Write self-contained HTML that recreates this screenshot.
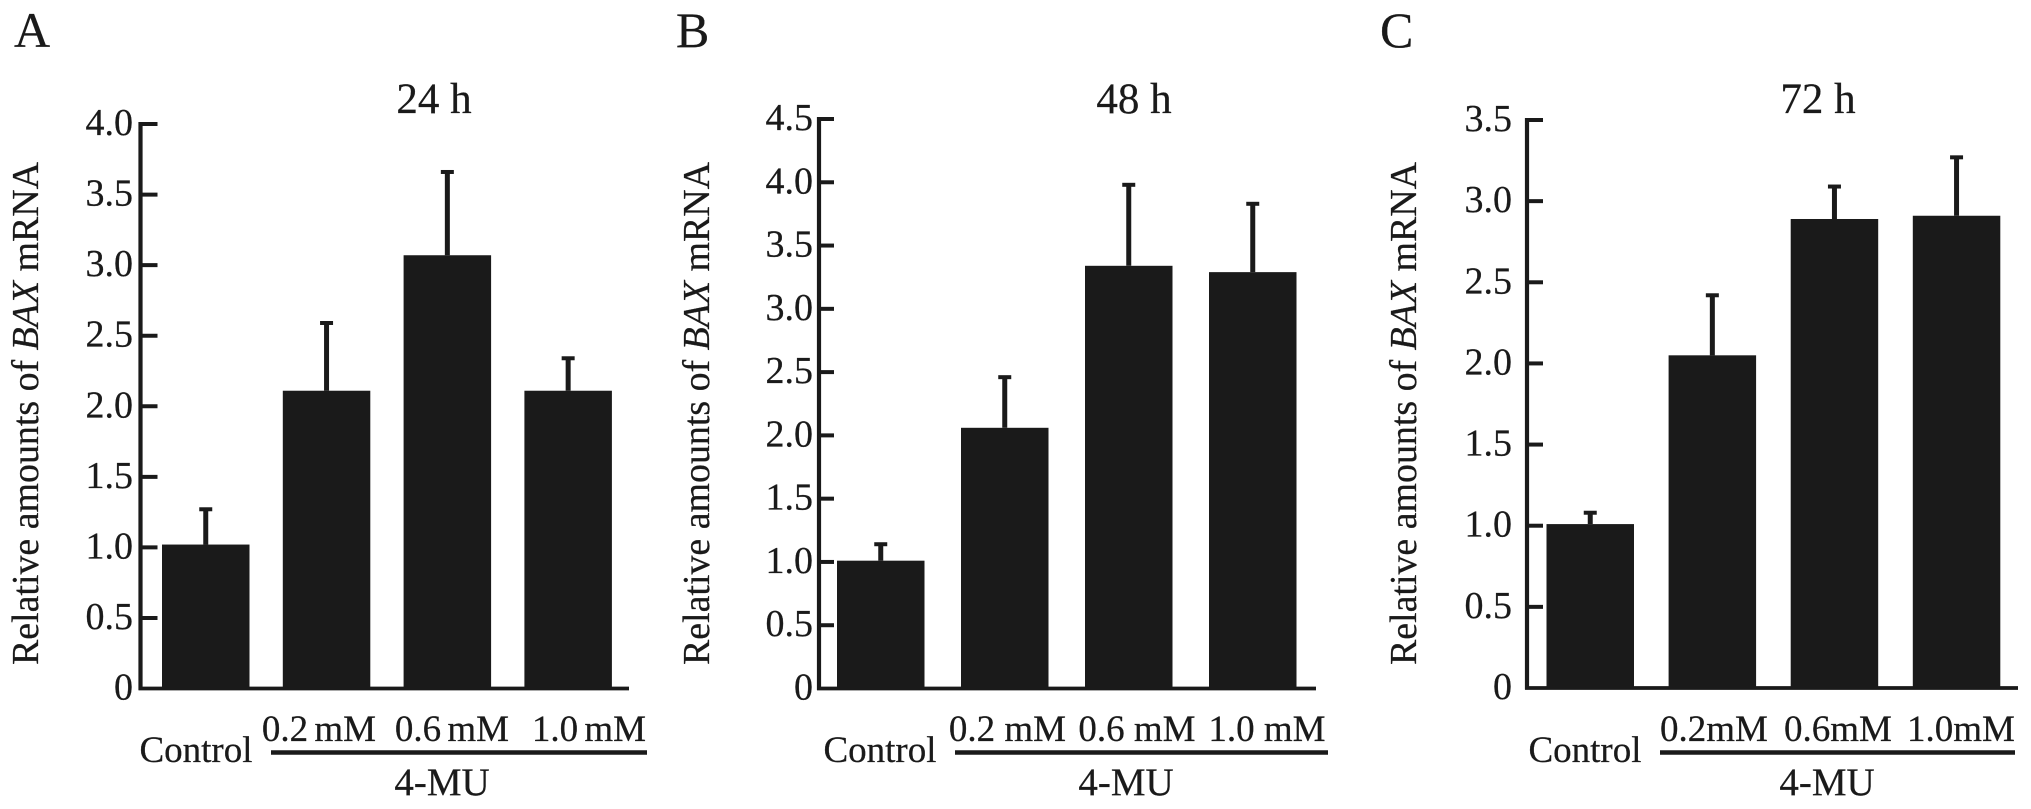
<!DOCTYPE html>
<html>
<head>
<meta charset="utf-8">
<title>Relative amounts of BAX mRNA</title>
<style>
html,body{margin:0;padding:0;background:#fff;}
svg{display:block;}
text{font-family:"Liberation Serif",serif;fill:#1a1a1a;stroke:#1a1a1a;stroke-width:0.25;}
</style>
</head>
<body>
<svg id="figure" width="2031" height="809" viewBox="0 0 2031 809" xmlns="http://www.w3.org/2000/svg"></svg>
<script>
const categories = ["Control", "0.2 mM", "0.6 mM", "1.0 mM"];
const categoriesC = ["Control", "0.2mM", "0.6mM", "1.0mM"];
const titles = ["24 h", "48 h", "72 h"];
const panelLetters = ["A", "B", "C"];

const ticksA = ["0", "0.5", "1.0", "1.5", "2.0", "2.5", "3.0", "3.5", "4.0"];
const ticksB = ["0", "0.5", "1.0", "1.5", "2.0", "2.5", "3.0", "3.5", "4.0", "4.5"];
const ticksC = ["0", "0.5", "1.0", "1.5", "2.0", "2.5", "3.0", "3.5"];

const meansA = [1.02, 2.11, 3.07, 2.11];
const errorTopsA = [1.27, 2.59, 3.66, 2.34];
const meansB = [1.01, 2.06, 3.34, 3.29];
const errorTopsB = [1.14, 2.46, 3.98, 3.83];
const meansC = [1.01, 2.05, 2.89, 2.91];
const errorTopsC = [1.08, 2.42, 3.09, 3.27];

const svg = document.getElementById('figure');
const NS = 'http://www.w3.org/2000/svg';

function make(tag, attrs, parent) {
  const e = document.createElementNS(NS, tag);
  for (const k in attrs) e.setAttribute(k, attrs[k]);
  parent.appendChild(e);
  return e;
}

function drawPanel(p) {
  const g = make('g', {}, svg);
  
  

  const maxV = parseFloat(p.ticks[p.ticks.length - 1]);
  const yScale = v => p.base - (v / maxV) * (p.base - p.top);
  const barX = i => p.barStart + i * p.barStep;
  const barW = 87.5;

  const letter = make('text', {x: p.letterX, y: 47, 'font-size': 50}, g);
  letter.textContent = p.letter;
  
  

  const title = make('text', {x: p.titleX, y: 113, 'font-size': 43, 'text-anchor': 'middle'}, g);
  title.textContent = p.title;
  
  

  const yTitle = make('text', {
    transform: 'translate(' + p.yTitleX + ',665) rotate(-90)',
    'font-size': 38, textLength: 503, lengthAdjust: 'spacingAndGlyphs'
  }, g);
  
  
  make('tspan', {}, yTitle).textContent = 'Relative amounts of ';
  make('tspan', {'font-style': 'italic'}, yTitle).textContent = 'BAX';
  make('tspan', {}, yTitle).textContent = ' mRNA';

  p.means.forEach((m, i) => {
    const cx = barX(i) + barW / 2;
    const stem = make('line', {x1: cx, x2: cx, y1: yScale(m), y2: yScale(p.errors[i]), stroke: '#1a1a1a', 'stroke-width': 5}, g);
    
    
    const cap = make('line', {x1: cx - 6.5, x2: cx + 6.5, y1: yScale(p.errors[i]), y2: yScale(p.errors[i]), stroke: '#1a1a1a', 'stroke-width': 4}, g);
    
    
    const bar = make('rect', {x: barX(i), y: yScale(m), width: barW, height: p.base - yScale(m), fill: '#1a1a1a'}, g);
    
    
  });

  const yAxis = make('line', {x1: p.axisX, x2: p.axisX, y1: p.top - 2, y2: p.base + 1.5, stroke: '#1a1a1a', 'stroke-width': 4.2}, g);
  
  
  const xAxis = make('line', {x1: p.axisX - 2, x2: p.axisEnd, y1: p.base, y2: p.base, stroke: '#1a1a1a', 'stroke-width': 3.8}, g);
  
  

  p.ticks.forEach(t => {
    const v = parseFloat(t);
    const yy = yScale(v);
    if (v > 0) {
      const mark = make('line', {x1: p.axisX, x2: p.axisX + p.tickLen, y1: yy, y2: yy, stroke: '#1a1a1a', 'stroke-width': 4}, g);
      
      
    }
    const label = make('text', {x: p.tickLabelX, y: yy + 11, 'font-size': 38, 'text-anchor': 'end'}, g);
    label.textContent = t;
    
    
  });

  p.cats.forEach((c, i) => {
    const isControl = i === 0;
    const lab = make('text', {
      x: p.catX[i], y: isControl ? 762 : 741, 'font-size': 37, 'text-anchor': 'middle',
      'word-spacing': p.catSpace
    }, g);
    lab.textContent = c;
    
    
  });

  const bracket = make('line', {x1: p.lineX1, x2: p.lineX2, y1: 752.5, y2: 752.5, stroke: '#1a1a1a', 'stroke-width': 4.4}, g);
  
  

  const mu = make('text', {x: p.muX, y: 795, 'font-size': 39, 'text-anchor': 'middle'}, g);
  mu.textContent = '4-MU';
  
  
}

drawPanel({
  letter: panelLetters[0], title: titles[0], cats: categories, ticks: ticksA, means: meansA, errors: errorTopsA,
  top: 124, base: 688.5, axisX: 140.5, axisEnd: 629, tickLen: 17, tickLabelX: 133,
  barStart: 162, barStep: 120.8, letterX: 14, titleX: 434, yTitleX: 38,
  catX: [196, 319, 452, 589], catSpace: -3, lineX1: 271, lineX2: 647, muX: 442
});
drawPanel({
  letter: panelLetters[1], title: titles[1], cats: categories, ticks: ticksB, means: meansB, errors: errorTopsB,
  top: 119, base: 688.5, axisX: 819, axisEnd: 1316, tickLen: 15, tickLabelX: 813,
  barStart: 837, barStep: 124, letterX: 676, titleX: 1134, yTitleX: 709,
  catX: [880, 1007.5, 1137, 1267], catSpace: 0, lineX1: 955, lineX2: 1328, muX: 1126
});
drawPanel({
  letter: panelLetters[2], title: titles[2], cats: categoriesC, ticks: ticksC, means: meansC, errors: errorTopsC,
  top: 120, base: 688, axisX: 1527, axisEnd: 2018, tickLen: 16, tickLabelX: 1512,
  barStart: 1546.5, barStep: 122.1, letterX: 1380, titleX: 1818, yTitleX: 1416,
  catX: [1585, 1714, 1838, 1961], catSpace: 0, lineX1: 1660, lineX2: 2015, muX: 1827
});
</script>
</body>
</html>
